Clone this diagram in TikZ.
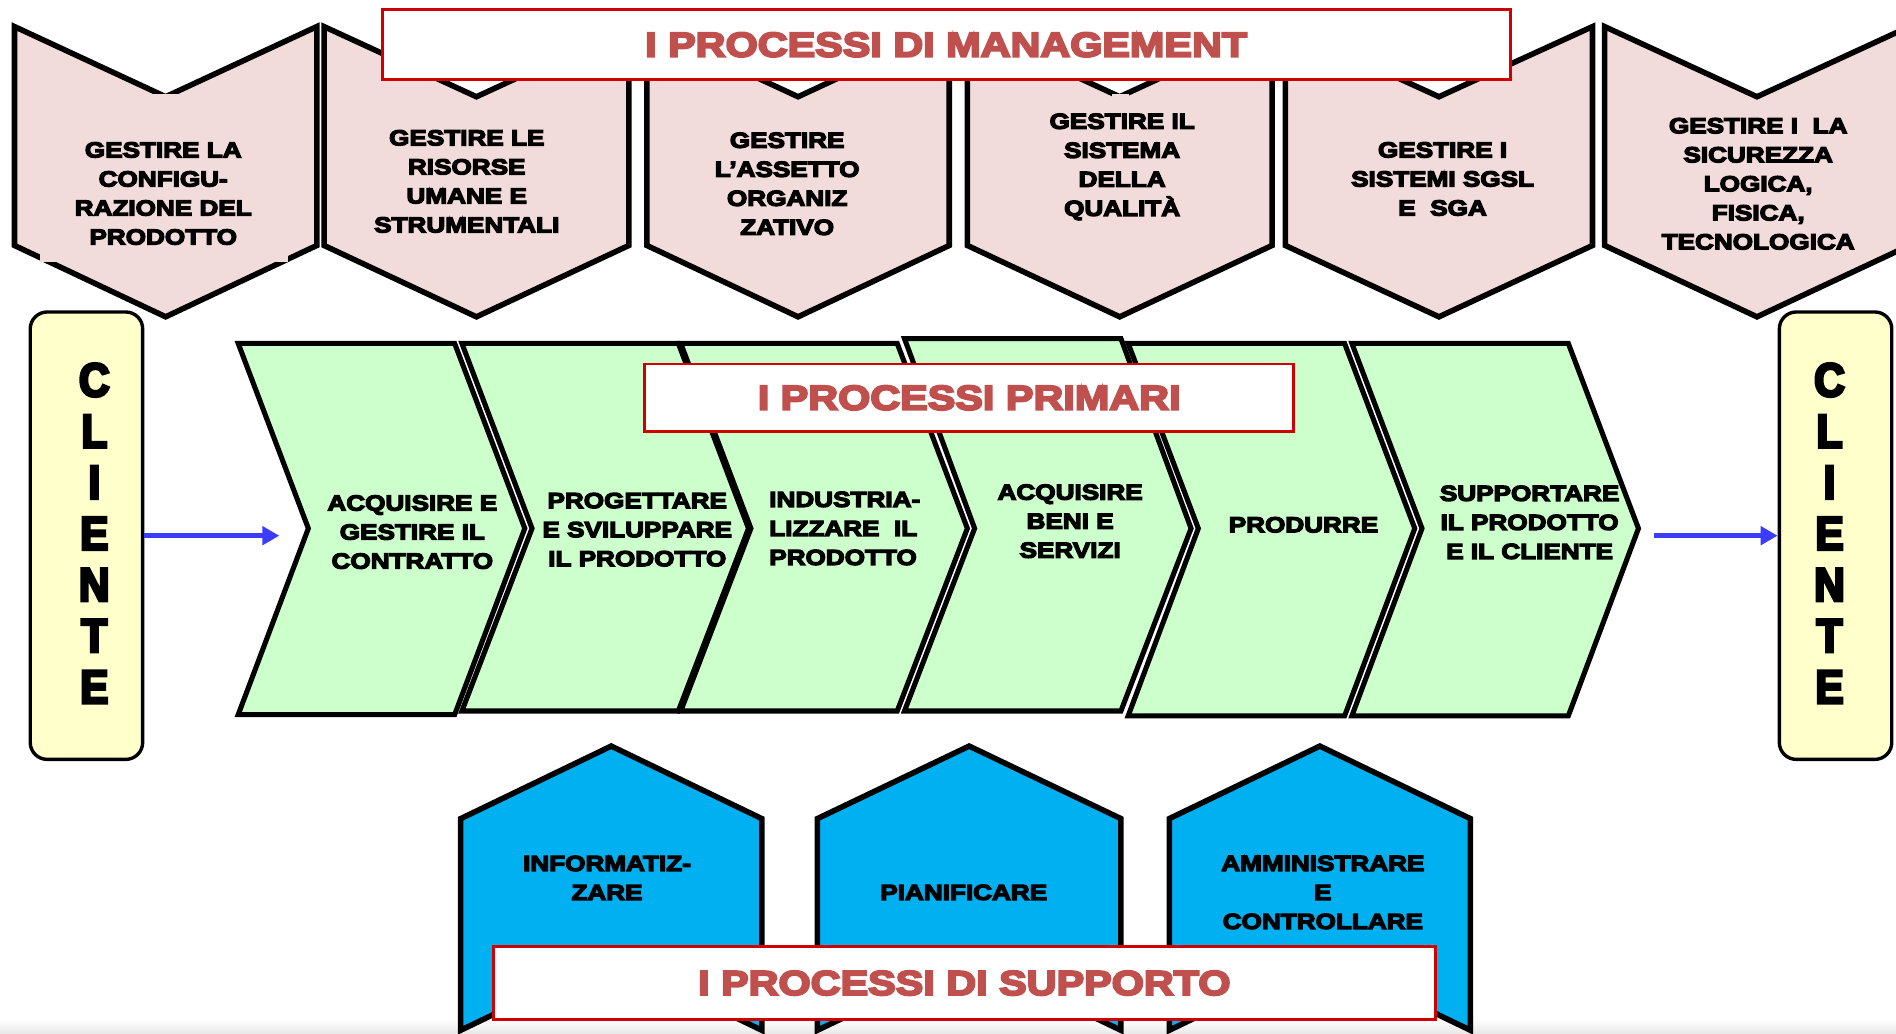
\documentclass[tikz,border=0pt]{standalone}
\usepackage{fontspec}
\usetikzlibrary{arrows.meta}
\newfontfamily\heavy{Liberation Sans Bold}[FakeStretch=1.2,FakeBold=6]
\newfontfamily\heavyc{Liberation Sans Bold}[FakeStretch=0.9,FakeBold=6]
\definecolor{mgmtpink}{HTML}{F2DCDB}
\definecolor{primgreen}{HTML}{CCFFCC}
\definecolor{suppblue}{HTML}{00B0F0}
\definecolor{clientyellow}{HTML}{FFFFCC}
\definecolor{titlered}{HTML}{D00000}
\definecolor{titletext}{HTML}{C0504D}
\definecolor{flowblue}{HTML}{3C3CFF}

% management block: notch on top, point at the bottom
\newcommand\mgmtshape[2]{%
  \draw[mgmt] (#1,22) -- (#1+#2/2,80) -- (#1+#2,22) -- (#1+#2,203)
    -- (#1+#2/2,262) -- (#1,203) -- cycle;}
% primary process chevron: left x, top y, bottom y
\newcommand\primchevron[3]{%
  \draw[prim] (#1,#2) -- (#1+179,#2) -- (#1+237,437) -- (#1+179,#3)
    -- (#1,#3) -- (#1+58,437) -- cycle;}
% support block: point on top, notch at the bottom
\newcommand\suppshape[2]{%
  \draw[supp] (#1,677) -- (#1+#2/2,617) -- (#1+#2,677) -- (#1+#2,852)
    -- (#1+#2/2,792) -- (#1,852) -- cycle;}

\begin{document}
\begin{tikzpicture}[x=1pt,y=-1pt,
  lbl/.style={font=\heavy\fontsize{18}{24}\selectfont, align=center, inner sep=0pt},
  mgmt/.style={fill=mgmtpink, draw=black, line width=4.6pt},
  prim/.style={fill=primgreen, draw=black, line width=4.2pt},
  supp/.style={fill=suppblue, draw=black, line width=4.6pt},
  titlebox/.style={draw=titlered, fill=white, line width=2.4pt, text=titletext,
    font=\heavy\fontsize{28.5}{34}\selectfont, inner sep=0pt},
  client/.style={draw=black, fill=clientyellow, rounded corners=14pt, line width=2.8pt,
    minimum width=93pt, minimum height=370pt, inner sep=0pt},
  clientword/.style={align=center, inner sep=0pt, font=\heavyc\fontsize{39}{42.3}\selectfont},
  flow/.style={draw=flowblue, line width=4.4pt, -{Triangle[length=14pt,width=15pt]}}]

\useasboundingbox (0,0) rectangle (1568,855);
\fill[white] (0,0) rectangle (1568,855);
\shade[top color=white, bottom color=black!9] (0,843) rectangle (1568,855);

% ---------------- management processes ----------------
\mgmtshape{12}{250}
\fill[mgmtpink] (33,78) rectangle (238,217);
\mgmtshape{268}{252}
\mgmtshape{535}{250}
\mgmtshape{800}{252}
\fill[mgmtpink] (920,78) rectangle (934,86);
\mgmtshape{1063}{254}
\mgmtshape{1327}{252}

\node[lbl] (m1) at (135,160) {GESTIRE LA\\CONFIGU-\\RAZIONE DEL\\PRODOTTO};
\node[lbl] (m2) at (386,150) {GESTIRE LE\\RISORSE\\UMANE E\\STRUMENTALI};
\node[lbl] (m3) at (651,152) {GESTIRE\\L’ASSETTO\\ORGANIZ\\ZATIVO};
\node[lbl] (m4) at (928,138) {GESTIRE IL\\SISTEMA\\DELLA\\QUALITÀ};
\node[lbl] (m5) at (1193,148) {GESTIRE I\\SISTEMI SGSL\\E~\ SGA};
\node[lbl] (m6) at (1454,152) {GESTIRE I~\ LA\\SICUREZZA\\LOGICA,\\FISICA,\\TECNOLOGICA};

\node[titlebox, minimum width=933pt, minimum height=58pt] (tmgmt) at (782.5,37)
  {I PROCESSI DI MANAGEMENT};

% ---------------- primary processes ----------------
\primchevron{197}{284}{591}
\primchevron{382}{284}{588}
\primchevron{563}{284}{588}
\primchevron{748}{280}{588}
\primchevron{933}{284}{592}
\primchevron{1118}{284}{592}

\node[lbl] (p1) at (341,440) {ACQUISIRE E\\GESTIRE IL\\CONTRATTO};
\node[lbl] (p2) at (527,438) {PROGETTARE\\E SVILUPPARE\\IL PRODOTTO};
\node[lbl, align=left, anchor=west] (p3) at (636,437) {INDUSTRIA-\\LIZZARE~\ IL\\PRODOTTO};
\node[lbl] (p4) at (885,431) {ACQUISIRE\\BENI E\\SERVIZI};
\node[lbl] (p5) at (1078,434) {PRODURRE};
\node[lbl] (p6) at (1265,432) {SUPPORTARE\\IL PRODOTTO\\E IL CLIENTE};

\node[titlebox, minimum width=537pt, minimum height=56pt] (tprim) at (801.5,329)
  {I PROCESSI PRIMARI};

% ---------------- customers and flow ----------------
\node[client] (cl) at (71.5,443) {};
\node[clientword] (clw) at (78,441) {C\\L\\I\\E\\N\\T\\E};
\node[client] (cr) at (1518,443) {};
\node[clientword] (crw) at (1513,441) {C\\L\\I\\E\\N\\T\\E};
\coordinate (inflow) at (231,443);
\coordinate (outflow) at (1368,443);
\draw[flow] (cl.east) -- (inflow);
\draw[flow] (outflow) -- (cr.west);

% ---------------- support processes ----------------
\suppshape{381}{249}
\suppshape{676}{251}
\suppshape{967}{249}

\node[lbl] (s1) at (502,726) {INFORMATIZ-\\ZARE};
\node[lbl] (s2) at (797,738) {PIANIFICARE};
\node[lbl] (s3) at (1094,738) {AMMINISTRARE\\E\\CONTROLLARE};

\node[titlebox, minimum width=779pt, minimum height=60pt] (tsupp) at (797.5,813)
  {I PROCESSI DI SUPPORTO};
\end{tikzpicture}
\end{document}
